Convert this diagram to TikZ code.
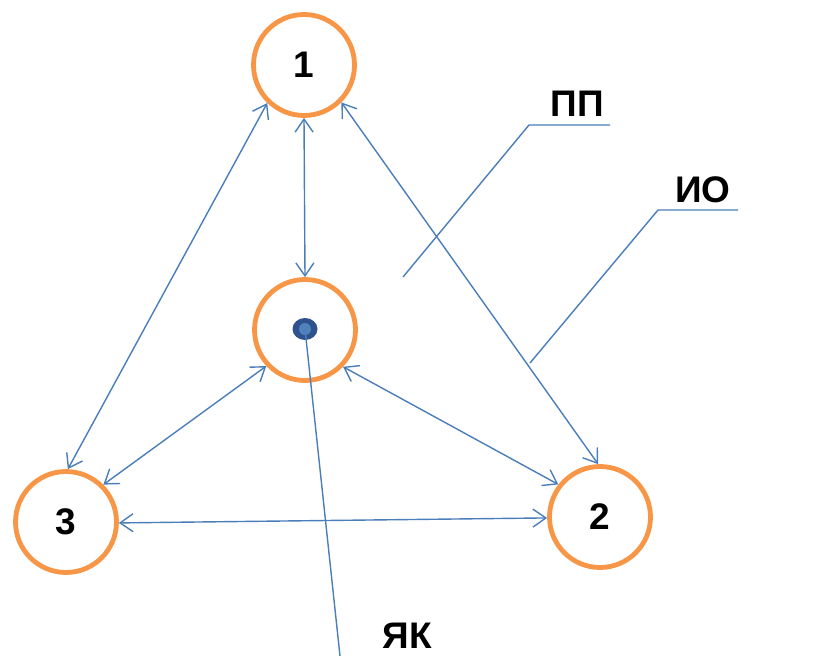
\documentclass[tikz,border=0pt]{standalone}
\usepackage{fontspec}
\setmainfont{Liberation Sans}
\usetikzlibrary{arrows.meta,shapes.geometric}
\definecolor{ring}{HTML}{F79646}
\definecolor{link}{HTML}{4A7EBB}
\definecolor{dotdark}{HTML}{2F528F}
\definecolor{dotlight}{HTML}{4F81BD}
\tikzset{
  state/.style={circle, draw=ring, line width=4.8pt, minimum size=101pt, inner sep=0pt, fill=white,
    font=\fontsize{37}{37}\selectfont\bfseries},
  link/.style={draw=link, line width=1.4pt},
  biarrow/.style={link, {Straight Barb[length=13pt,width=18pt,line width=1.4pt]}-{Straight Barb[length=13pt,width=18pt,line width=1.4pt]}},
  lbl/.style={font=\fontsize{37}{37}\selectfont\bfseries, inner sep=0pt}
}
\begin{document}
\begin{tikzpicture}[x=1pt,y=-1pt]
\useasboundingbox (0,0) rectangle (828,656);
\node[state] (c1) at (304,65) {1};
\node[state] (c0) at (305,330) {};
\node[state] (c3) at (66,522) {3};
\node[state] (c2) at (600,517) {2};
% arrows
\draw[biarrow] (c1.270) -- (c0.90);
\draw[biarrow] (c1.226) -- (c3.88);
\draw[biarrow] (c1.315) -- (c2.92);
\draw[biarrow] (c0.223) -- (c3.45);
\draw[biarrow] (c0.316) -- (c2.142);
\draw[biarrow] (c3.359) -- (c2.181);
% dot and its line
\coordinate (ykend) at (340,656);
\node[ellipse, minimum width=25pt, minimum height=22pt, inner sep=0pt, fill=dotdark] (dot) at (305,329) {};
\fill[dotlight] (dot.center) circle (6pt);
\draw[link] (dot.center) -- (ykend);
\node[lbl] (yk) at (407,636) {ЯК};
% leader lines
\coordinate (pp0) at (403,277);
\coordinate (pp1) at (529,125);
\coordinate (pp2) at (610,125);
\draw[link] (pp0) -- (pp1) -- (pp2);
\node[lbl] (pp) at (577,104) {ПП};
\coordinate (io0) at (530,363);
\coordinate (io1) at (658,210);
\coordinate (io2) at (738,210);
\draw[link] (io0) -- (io1) -- (io2);
\node[lbl] (io) at (703,190) {ИО};
\end{tikzpicture}
\end{document}
